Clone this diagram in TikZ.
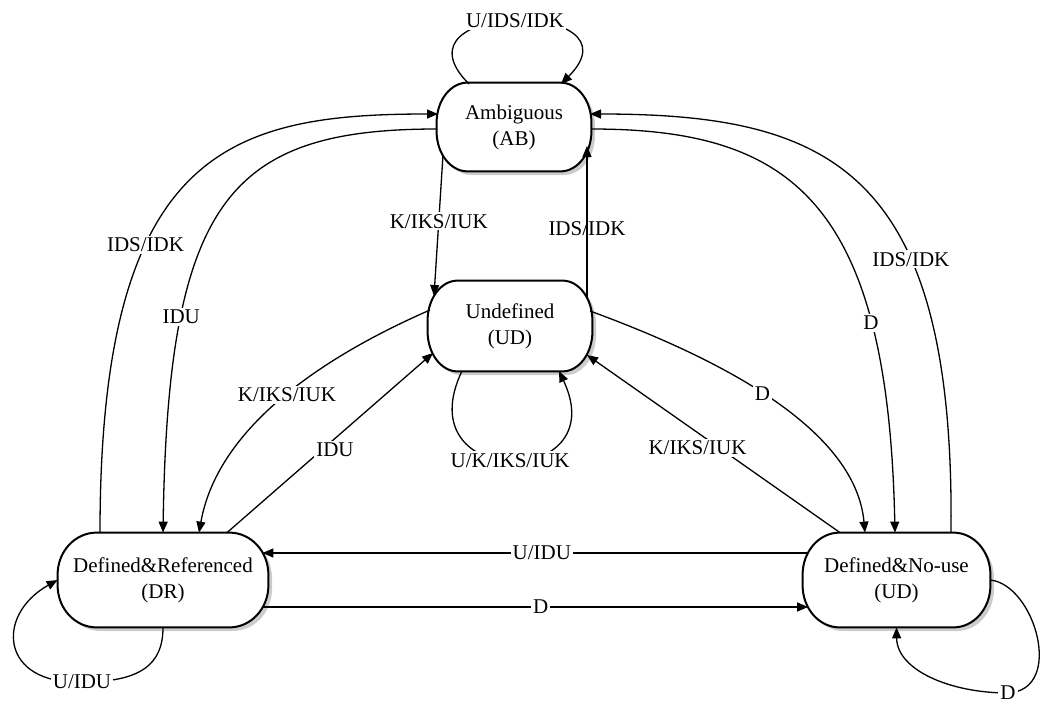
\documentclass[tikz,border=0pt]{standalone}
\usepackage{fontspec}
\setmainfont{Liberation Serif}
\usetikzlibrary{arrows.meta,backgrounds}
\begin{document}
\begin{tikzpicture}[x=0.5pt,y=-0.5pt,
  state/.style={draw=none,inner sep=0pt,align=center,font=\fontsize{10.5}{13}\selectfont},
  lbl/.style={fill=white,inner sep=1pt,font=\fontsize{10.5}{12}\selectfont},
  lblnf/.style={inner sep=1pt,font=\fontsize{10.5}{12}\selectfont},
  edge/.style={line width=0.65pt,-{Triangle[length=5.5pt,width=4.5pt]}},
  outline/.style={line width=1pt,fill=white},
  shade/.style={fill=black!20}]
\useasboundingbox (0,0) rectangle (1040,702);

\node[state,minimum width=77pt,minimum height=44pt] (AB) at (514,127) {Ambiguous\\(AB)};
\node[state,minimum width=82pt,minimum height=45pt] (UD) at (510,326) {Undefined\\(UD)};
\node[state,minimum width=105pt,minimum height=47pt] (DR) at (163,580) {Defined\&Referenced\\(DR)};
\node[state,minimum width=93.5pt,minimum height=47pt] (DNU) at (896.5,580) {Defined\&No-use\\(UD)};

\begin{pgfonlayer}{background}
\foreach \n/\rx/\ry in {AB/15.5pt/20pt, UD/15pt/20pt, DR/19.5pt/21pt, DNU/18.5pt/21pt}{
  \fill[shade,transform canvas={shift={(1.8pt,-1.8pt)}}]
    ([xshift=\rx]\n.north west) -- ([xshift=-\rx]\n.north east)
    arc[start angle=90,end angle=0,x radius=\rx,y radius=\ry] -- ([yshift=\ry]\n.south east)
    arc[start angle=0,end angle=-90,x radius=\rx,y radius=\ry] -- ([xshift=\rx]\n.south west)
    arc[start angle=270,end angle=180,x radius=\rx,y radius=\ry] -- ([yshift=-\ry]\n.north west)
    arc[start angle=180,end angle=90,x radius=\rx,y radius=\ry] -- cycle;
  \draw[outline]
    ([xshift=\rx]\n.north west) -- ([xshift=-\rx]\n.north east)
    arc[start angle=90,end angle=0,x radius=\rx,y radius=\ry] -- ([yshift=\ry]\n.south east)
    arc[start angle=0,end angle=-90,x radius=\rx,y radius=\ry] -- ([xshift=\rx]\n.south west)
    arc[start angle=270,end angle=180,x radius=\rx,y radius=\ry] -- ([yshift=-\ry]\n.north west)
    arc[start angle=180,end angle=90,x radius=\rx,y radius=\ry] -- cycle;
}
\end{pgfonlayer}

% AB self loop
\draw[edge] ([shift={(-45,-43)}]AB.center) .. controls (385,0) and (645,0) .. node[lbl,pos=0.5]{U/IDS/IDK} ([shift={(47,-43)}]AB.center);
% DR -> AB
\draw[edge] ([shift={(-63,0)}]DR.north) .. controls (100,150) and (230,114) .. node[lbl,pos=0.35]{IDS/IDK} ([shift={(-76,-13)}]AB.center);
% AB -> DR
\draw[edge] ([shift={(-77,2)}]AB.center) .. controls (230,129) and (168,200) .. node[lbl,pos=0.73]{IDU} (DR.north);
% AB -> DNU
\draw[edge] ([shift={(77,2)}]AB.center) .. controls (790,129) and (888,200) .. node[lbl,pos=0.74]{D} ([shift={(-1.5,0)}]DNU.north);
% DNU -> AB
\draw[edge] ([shift={(54.5,0)}]DNU.north) .. controls (955,170) and (830,114) .. node[lbl,pos=0.34]{IDS/IDK} ([shift={(76,-13)}]AB.center);
% AB -> UD
\draw[edge] ([shift={(-71,28)}]AB.center) -- node[lbl,pos=0.47]{K/IKS/IUK} ([shift={(-76,-30)}]UD.center);
% UD -> AB
\draw[edge] ([shift={(77,-27)}]UD.center) -- node[lblnf,pos=0.46]{IDS/IDK} ([shift={(73,19)}]AB.center);
% UD -> DR
\draw[edge] ([shift={(-80,-16)}]UD.center) .. controls (350,345) and (220,415) .. node[lbl,pos=0.52]{K/IKS/IUK} ([shift={(36,0)}]DR.north);
% DR -> UD
\draw[edge] ([shift={(64,0)}]DR.north) -- node[lbl,pos=0.5,xshift=2.5pt,yshift=-3.5pt]{IDU} ([shift={(-77,27)}]UD.center);
% UD self loop
\draw[edge] ([shift={(-48,45)}]UD.center) .. controls (405,490) and (615,490) .. node[lbl,pos=0.5]{U/K/IKS/IUK} ([shift={(49,45)}]UD.center);
% UD -> DNU
\draw[edge] ([shift={(80,-15)}]UD.center) .. controls (710,355) and (855,425) .. node[lbl,pos=0.48]{D} ([shift={(-31.5,0)}]DNU.north);
% DNU -> UD
\draw[edge] ([shift={(-56.5,0)}]DNU.north) -- node[lbl,pos=0.5,xshift=-8pt,yshift=-2pt]{K/IKS/IUK} ([shift={(77,29)}]UD.center);
% DNU -> DR
\draw[edge] ([shift={(5.5,-27)}]DNU.west) -- node[lbl,pos=0.488]{U/IDU} ([shift={(-6,-27)}]DR.east);
% DR -> DNU
\draw[edge] ([shift={(-6,27)}]DR.east) -- node[lbl,pos=0.51]{D} ([shift={(5.5,27)}]DNU.west);
% DR self loop
\draw[edge] (DR.south) .. controls (163,665) and (140,682) .. (82,682) node[lbl]{U/IDU} .. controls (0,685) and (-5,615) .. (DR.west);
% DNU self loop
\draw[edge] (DNU.east) .. controls (1035,585) and (1065,690) .. (1008,693) node[lbl]{D} .. controls (950,693) and (897,670) .. (DNU.south);
\end{tikzpicture}
\end{document}
